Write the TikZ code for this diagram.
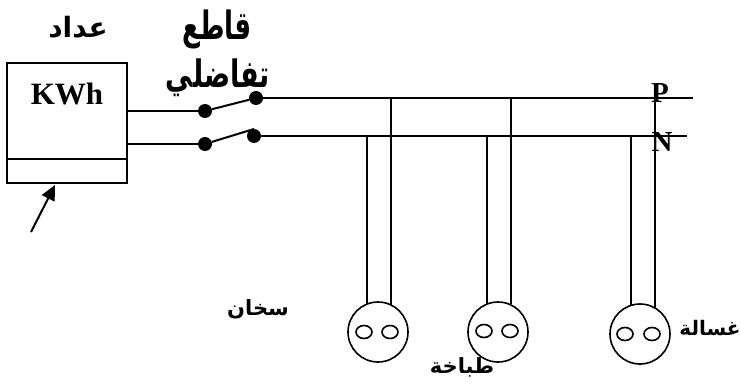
\documentclass[tikz,border=0pt]{standalone}
\usepackage{fontspec}
\setmainfont{Liberation Serif}
\newfontfamily\arabicfont[Script=Arabic]{DejaVu Sans}
\TeXXeTstate=1
\usetikzlibrary{arrows.meta,shapes.geometric}
\tikzset{
  x=1pt,y=-1pt,
  wire/.style={line width=2pt,black},
  dot/.style={circle,fill=black,inner sep=0pt,minimum size=14pt},
  socket/.style={circle,draw,line width=1.6pt,inner sep=0pt,minimum size=60pt},
  hole/.style={ellipse,draw,line width=1.6pt,inner sep=0pt,minimum width=16pt,minimum height=13pt},
  ar/.style={font=\arabicfont\bfseries\fontsize{#1}{#1}\selectfont,inner sep=0pt},
  latin/.style={font=\bfseries\fontsize{#1}{#1}\selectfont,inner sep=0pt}
}
\begin{document}
\begin{tikzpicture}
\useasboundingbox (0,0) rectangle (741,385);
% meter
\node[draw,wire,minimum width=120pt,minimum height=120pt,inner sep=0pt] (meter) at (67,123) {};
\coordinate (divL) at (7,159); \coordinate (divR) at (127,159);
\draw[wire] (divL) -- (divR);
\node[latin=31] (kwh) at (67,94) {KWh};
% switches
\node[dot] (a1) at (205,111) {};
\node[dot] (b1) at (256,98) {};
\node[dot] (a2) at (205,144) {};
\node[dot] (b2) at (254,136) {};
\coordinate (m1) at (127,111); \coordinate (m2) at (127,144);
\coordinate (blade2) at (254,129);
\draw[wire] (m1) -- (a1);
\draw[wire] (m2) -- (a2);
\draw[wire] (a1) -- (b1);
\draw[wire] (a2) -- (blade2);
% busbars
\coordinate (Pend) at (693,98); \coordinate (Nend) at (687,136);
\draw[wire] (b1) -- (Pend);
\draw[wire] (b2) -- (Nend);
% sockets
\node[socket] (s1) at (378,332) {};
\node[socket] (s2) at (498,332) {};
\node[socket] (s3) at (640,334) {};
\node[hole] (h1a) at (364,332) {};
\node[hole] (h1b) at (390,332) {};
\node[hole] (h2a) at (484,331) {};
\node[hole] (h2b) at (510,331) {};
\node[hole] (h3a) at (625,334) {};
\node[hole] (h3b) at (652,334) {};
% drops
\coordinate (t1n) at (367,136); \coordinate (t1p) at (391,98);
\coordinate (t2n) at (487,136); \coordinate (t2p) at (511,98);
\coordinate (t3n) at (631,136); \coordinate (t3p) at (655,98);
\coordinate (e1n) at (367,304); \coordinate (e1p) at (391,305);
\coordinate (e2n) at (487,304); \coordinate (e2p) at (511,304);
\coordinate (e3n) at (631,305); \coordinate (e3p) at (655,308);
\draw[wire] (t1n) -- (e1n);
\draw[wire] (t1p) -- (e1p);
\draw[wire] (t2n) -- (e2n);
\draw[wire] (t2p) -- (e2p);
\draw[wire] (t3n) -- (e3n);
\draw[wire] (t3p) -- (e3p);
% arrow
\coordinate (arrS) at (31,232); \coordinate (arrE) at (55,185);
\draw[wire,-{Triangle[length=15pt,width=14pt]}] (arrS) -- (arrE);
% labels
\node[latin=29] (P) at (660,93) {P};
\node[latin=29] (N) at (662,142) {N};
\node[ar=28pt] (l1) at (78,27) {\beginR عداد\endR};
\node[ar=26pt] (l2) at (217,29) {\scalebox{1}[1.5]{\beginR قاطع\endR}};
\node[ar=27pt] (l3) at (218,78) {\scalebox{1}[1.4]{\beginR تفاضلي\endR}};
\node[ar=21pt] (l4) at (258,309) {\beginR سخان\endR};
\node[ar=21pt] (l5) at (462,367) {\beginR طباخة\endR};
\node[ar=20pt] (l6) at (710,328) {\beginR غسالة\endR};
\end{tikzpicture}
\end{document}
